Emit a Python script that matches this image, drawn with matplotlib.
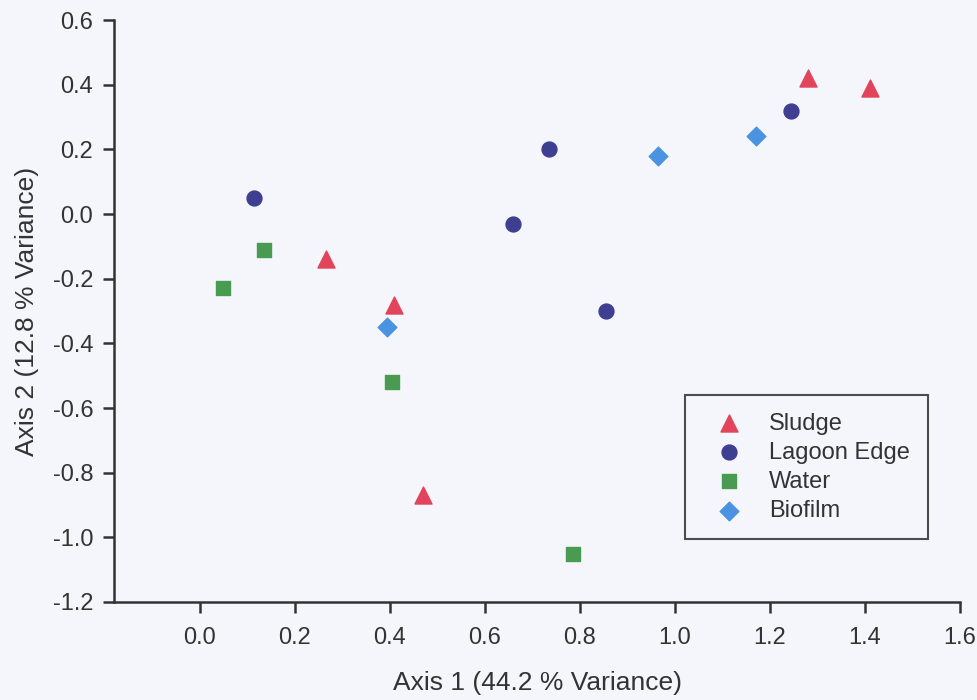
import matplotlib.pyplot as plt

plt.rcParams['font.family'] = ['Liberation Sans', 'DejaVu Sans']

# PCA scores
sludge_x = [1.28, 1.41, 0.265, 0.41, 0.47]
sludge_y = [0.42, 0.39, -0.14, -0.28, -0.87]
lagoon_x = [0.115, 0.735, 0.66, 1.245, 0.855]
lagoon_y = [0.05, 0.20, -0.03, 0.32, -0.30]
water_x = [0.05, 0.135, 0.405, 0.785]
water_y = [-0.23, -0.11, -0.52, -1.05]
biofilm_x = [0.395, 0.965, 1.17]
biofilm_y = [-0.35, 0.18, 0.24]

xticks = [0.0, 0.2, 0.4, 0.6, 0.8, 1.0, 1.2, 1.4, 1.6]
yticks = [0.6, 0.4, 0.2, 0.0, -0.2, -0.4, -0.6, -0.8, -1.0, -1.2]

bg = '#f5f6fb'
ink = '#333333'

fig = plt.figure(figsize=(9.77, 7.0), dpi=100, facecolor=bg)
ax = fig.add_axes([0.1167, 0.14, 0.866, 0.8314], facecolor=bg)

ax.scatter(sludge_x, sludge_y, marker='^', s=150, color='#e2445c', label='Sludge', zorder=3)
ax.scatter(lagoon_x, lagoon_y, marker='o', s=115, color='#3f3f92', label='Lagoon Edge', zorder=3)
ax.scatter(water_x, water_y, marker='s', s=100, color='#4a9b52', label='Water', zorder=3)
ax.scatter(biofilm_x, biofilm_y, marker='D', s=90, color='#4a92e2', label='Biofilm', zorder=3)

ax.set_xlim(-0.18, 1.6)
ax.set_ylim(-1.2, 0.6)
ax.set_xticks(xticks)
ax.set_yticks(yticks)
ax.set_xticklabels(['%.1f' % v for v in xticks])
ax.set_yticklabels(['%.1f' % v for v in yticks])

for side in ['top', 'right']:
    ax.spines[side].set_visible(False)
for side in ['left', 'bottom']:
    ax.spines[side].set_color(ink)
    ax.spines[side].set_linewidth(1.8)
ax.tick_params(direction='out', length=8, width=1.8, color=ink, labelcolor=ink, labelsize=17)
ax.tick_params(axis='x', pad=10)
ax.tick_params(axis='y', pad=7)

ax.set_xlabel('Axis 1 (44.2 % Variance)', fontsize=19, color=ink, labelpad=16)
ax.set_ylabel('Axis 2 (12.8 % Variance)', fontsize=19, color=ink, labelpad=10)

leg = ax.legend(loc='upper left', bbox_to_anchor=(0.675, 0.356), fontsize=17,
                frameon=True, fancybox=False, edgecolor='#222222', facecolor=bg,
                borderpad=0.75, handletextpad=0.6, labelspacing=0.3, borderaxespad=0,
                handlelength=2.2)
leg.get_frame().set_linewidth(1.5)
for t in leg.get_texts():
    t.set_color(ink)

fig.savefig('out.png', dpi=100, facecolor=bg)
